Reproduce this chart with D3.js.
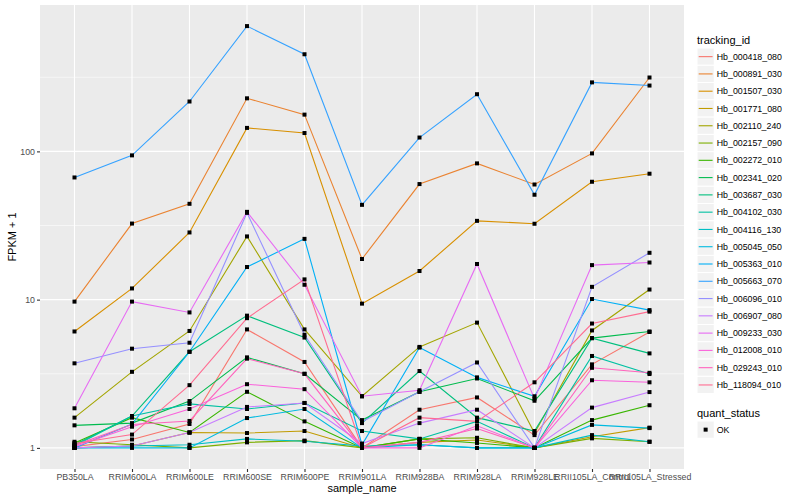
<!DOCTYPE html>
<html>
<head>
<meta charset="utf-8">
<script src="https://cdnjs.cloudflare.com/ajax/libs/d3/7.8.5/d3.min.js"></script>
<style>
    body { margin: 0; background: #fff; }
    svg { display: block; font-family: "Liberation Sans", Arial, sans-serif; }
</style>
</head>
<body>
<svg id="chart" width="800" height="500"></svg>
<script>
const samples = ['PB350LA', 'RRIM600LA', 'RRIM600LE', 'RRIM600SE', 'RRIM600PE', 'RRIM901LA',
    'RRIM928BA', 'RRIM928LA', 'RRIM928LE', 'RRII105LA_Control', 'RRII105LA_Stressed'];

const trackingIds = ['Hb_000418_080', 'Hb_000891_030', 'Hb_001507_030', 'Hb_001771_080', 'Hb_002110_240',
    'Hb_002157_090', 'Hb_002272_010', 'Hb_002341_020', 'Hb_003687_030', 'Hb_004102_030',
    'Hb_004116_130', 'Hb_005045_050', 'Hb_005363_010', 'Hb_005663_070', 'Hb_006096_010',
    'Hb_006907_080', 'Hb_009233_030', 'Hb_012008_010', 'Hb_029243_010', 'Hb_118094_010'];

// FPKM + 1, one row per tracking_id, one column per sample
const fpkmPlusOne = [
    [1.02, 1.14, 1.45, 6.3, 3.8, 1.0, 1.81, 2.19, 1.22, 3.66, 6.05],
    [9.7, 32.6, 44.3, 228, 177, 18.8, 60.2, 83, 59.8, 96.9, 315],
    [6.1, 11.9, 28.4, 144, 133, 9.4, 15.6, 34, 32.5, 62.4, 70.7],
    [1.0, 1.03, 1.27, 1.26, 1.30, 1.0, 1.09, 1.13, 1.0, 1.19, 1.37],
    [1.6, 3.26, 6.15, 26.7, 6.3, 2.23, 4.8, 7.0, 1.26, 6.2, 11.7],
    [1.1, 1.05, 1.0, 1.09, 1.12, 1.0, 1.15, 1.17, 1.0, 1.16, 1.1],
    [1.08, 1.6, 1.27, 2.39, 1.51, 1.0, 1.15, 1.08, 1.0, 1.54, 1.94],
    [1.42, 1.47, 2.07, 4.08, 3.16, 1.54, 2.39, 2.94, 2.08, 5.5, 6.1],
    [1.05, 1.64, 4.45, 7.8, 5.55, 1.47, 3.3, 1.6, 1.3, 5.5, 4.34],
    [1.03, 1.64, 1.98, 1.83, 2.01, 1.3, 1.15, 1.51, 1.0, 4.17, 3.15],
    [1.0, 1.03, 1.05, 1.15, 1.11, 1.03, 1.05, 1.0, 1.0, 1.22, 1.1],
    [1.0, 1.0, 1.0, 1.59, 1.83, 1.0, 1.05, 1.0, 1.0, 1.43, 1.36],
    [1.0, 1.45, 4.45, 16.6, 25.7, 1.05, 4.75, 2.99, 2.23, 10.1, 8.5],
    [66.7, 94, 217, 700, 452, 43.6, 124, 243, 51, 292, 278],
    [3.72, 4.67, 5.12, 38.5, 5.8, 1.5, 2.39, 3.77, 1.0, 12.2, 20.7],
    [1.0, 1.03, 1.27, 1.89, 2.01, 1.07, 1.47, 1.81, 1.0, 1.87, 2.38],
    [1.85, 9.7, 8.2, 39.1, 12.6, 2.23, 2.45, 17.4, 2.15, 17.1, 17.8],
    [1.02, 1.39, 1.83, 2.69, 2.49, 1.0, 1.0, 1.41, 1.0, 2.86, 2.77],
    [1.04, 1.44, 1.52, 4.0, 3.16, 1.0, 1.09, 1.35, 1.0, 3.47, 3.21],
    [1.07, 1.23, 2.65, 7.5, 13.7, 1.0, 1.6, 1.51, 2.77, 6.9, 8.3]
];

const yTicks = [1, 10, 100];
const yMinorTicks = [Math.sqrt(10), Math.sqrt(1000), Math.sqrt(100000)];
const quantStatus = ['OK'];

const colors = ['#F8766D', '#EA8331', '#D89000', '#C09B00', '#A3A500', '#7CAE00', '#39B600', '#00BB4E',
    '#00BF7D', '#00C1A3', '#00BFC4', '#00BAE0', '#00B0F6', '#35A2FF', '#9590FF', '#C77CFF',
    '#E76BF3', '#FA62DB', '#FF62BC', '#FF6C91'];

(function () {
    'use strict';

    const margin = { top: 5, right: 116, bottom: 31, left: 40 };
    const width = 800 - margin.left - margin.right;
    const height = 500 - margin.top - margin.bottom;

    const svg = d3.select('#chart');

    const series = trackingIds.map((id, i) => ({
        id: id,
        values: fpkmPlusOne[i].map((v, j) => ({ sample: samples[j], value: v }))
    }));

    const allValues = d3.merge(fpkmPlusOne);
    const logMin = Math.log10(d3.min(allValues));
    const logMax = Math.log10(d3.max(allValues));
    const pad = (logMax - logMin) * 0.05;

    const y = d3.scaleLog()
        .domain([Math.pow(10, logMin - pad), Math.pow(10, logMax + pad)])
        .range([height, 0]);

    const x = d3.scalePoint()
        .domain(samples)
        .range([0, width])
        .padding(0.6);

    const color = d3.scaleOrdinal()
        .domain(trackingIds)
        .range(colors);

    const chart = svg.append('g')
        .attr('transform', `translate(${margin.left}, ${margin.top})`);

    chart.append('rect')
        .attr('width', width)
        .attr('height', height)
        .attr('fill', '#EBEBEB');

    chart.selectAll('.minor')
        .data(yMinorTicks)
        .enter().append('line')
            .attr('x1', 0)
            .attr('x2', width)
            .attr('y1', (d) => y(d))
            .attr('y2', (d) => y(d))
            .attr('stroke', '#fff')
            .attr('stroke-width', 0.55);

    chart.selectAll('.major-y')
        .data(yTicks)
        .enter().append('line')
            .attr('x1', 0)
            .attr('x2', width)
            .attr('y1', (d) => y(d))
            .attr('y2', (d) => y(d))
            .attr('stroke', '#fff')
            .attr('stroke-width', 1.1);

    chart.selectAll('.major-x')
        .data(samples)
        .enter().append('line')
            .attr('x1', (d) => x(d))
            .attr('x2', (d) => x(d))
            .attr('y1', 0)
            .attr('y2', height)
            .attr('stroke', '#fff')
            .attr('stroke-width', 1.1);

    // axes
    const yAxis = chart.append('g')
        .call(d3.axisLeft(y).tickValues(yTicks).tickFormat(d3.format('d')).tickSize(3).tickPadding(2));
    const xAxis = chart.append('g')
        .attr('transform', `translate(0, ${height})`)
        .call(d3.axisBottom(x).tickSize(3).tickPadding(2));

    [yAxis, xAxis].forEach((a) => {
        a.select('.domain').remove();
        a.selectAll('.tick line').attr('stroke', '#333').attr('stroke-width', 1.1);
        a.selectAll('.tick text')
            .attr('fill', '#4D4D4D')
            .attr('font-size', '8.8px')
            .attr('font-family', '"Liberation Sans", Arial, sans-serif');
    });

    const line = d3.line()
        .x((d) => x(d.sample))
        .y((d) => y(d.value));

    chart.selectAll('.series')
        .data(series)
        .enter().append('path')
            .attr('class', 'series')
            .attr('d', (d) => line(d.values))
            .attr('fill', 'none')
            .attr('stroke', (d) => color(d.id))
            .attr('stroke-width', 1.1);

    chart.selectAll('.pt')
        .data(d3.merge(series.map((s) => s.values)))
        .enter().append('rect')
            .attr('class', 'pt')
            .attr('x', (d) => x(d.sample) - 2)
            .attr('y', (d) => y(d.value) - 2)
            .attr('width', 4)
            .attr('height', 4)
            .attr('fill', '#000');

    // axis titles
    svg.append('text')
        .attr('x', margin.left + width / 2)
        .attr('y', 492)
        .attr('text-anchor', 'middle')
        .attr('font-size', '11px')
        .text('sample_name');

    svg.append('text')
        .attr('transform', `translate(16, ${margin.top + height / 2}) rotate(-90)`)
        .attr('text-anchor', 'middle')
        .attr('font-size', '11px')
        .text('FPKM + 1');

    // legend: tracking_id
    const legend = svg.append('g')
        .attr('transform', 'translate(697, 0)');

    legend.append('text')
        .attr('x', 0)
        .attr('y', 44)
        .attr('font-size', '11px')
        .text('tracking_id');

    const keyH = 17.28;
    const key = legend.selectAll('.key')
        .data(trackingIds)
        .enter().append('g')
            .attr('class', 'key')
            .attr('transform', (d, i) => `translate(0, ${48 + i * keyH})`);

    key.append('rect')
        .attr('width', keyH)
        .attr('height', keyH)
        .attr('fill', '#F2F2F2')
        .attr('stroke', '#fff')
        .attr('stroke-width', 1);

    key.append('line')
        .attr('x1', 1.7)
        .attr('x2', keyH - 1.7)
        .attr('y1', keyH / 2)
        .attr('y2', keyH / 2)
        .attr('stroke', (d) => color(d))
        .attr('stroke-width', 1.1);

    key.append('text')
        .attr('x', keyH + 2.5)
        .attr('y', keyH / 2)
        .attr('dy', '0.35em')
        .attr('font-size', '8.8px')
        .text((d) => d);

    // legend: quant_status
    legend.append('text')
        .attr('x', 0)
        .attr('y', 417)
        .attr('font-size', '11px')
        .text('quant_status');

    const qKey = legend.selectAll('.qkey')
        .data(quantStatus)
        .enter().append('g')
            .attr('class', 'qkey')
            .attr('transform', (d, i) => `translate(0, ${421 + i * keyH})`);

    qKey.append('rect')
        .attr('width', keyH)
        .attr('height', keyH)
        .attr('fill', '#F2F2F2')
        .attr('stroke', '#fff');

    qKey.append('rect')
        .attr('x', keyH / 2 - 2)
        .attr('y', keyH / 2 - 2)
        .attr('width', 4)
        .attr('height', 4)
        .attr('fill', '#000');

    qKey.append('text')
        .attr('x', keyH + 2.5)
        .attr('y', keyH / 2)
        .attr('dy', '0.35em')
        .attr('font-size', '8.8px')
        .text((d) => d);
})();
</script>
</body>
</html>
